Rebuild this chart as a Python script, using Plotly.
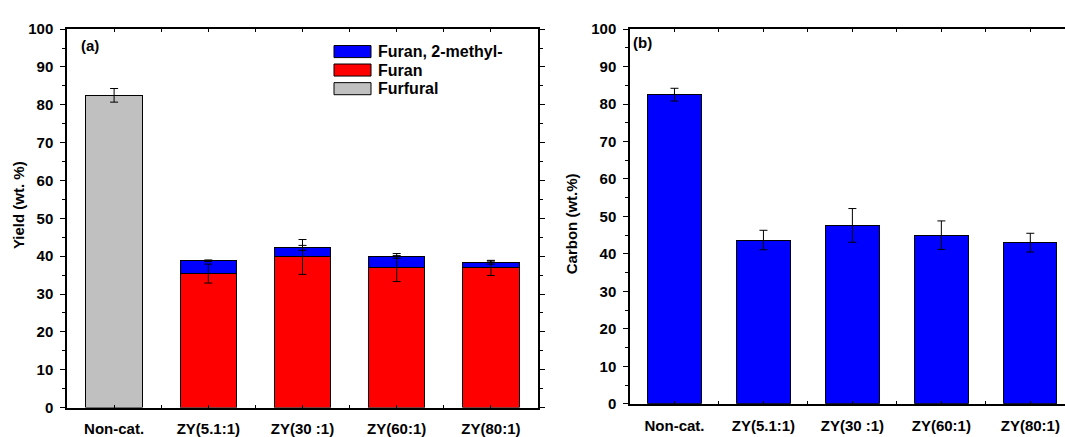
import plotly.graph_objects as go

# ---------------- data ----------------
categories = ["Non-cat.", "ZY(5.1:1)", "ZY(30 :1)", "ZY(60:1)", "ZY(80:1)"]
furfural = [82.5, None, None, None, None]
furfural_err = [1.8, None, None, None, None]
furan = [None, 35.4, 39.8, 37.0, 36.9]
furan_err = [None, 2.5, 4.6, 3.7, 2.0]
methylfuran = [None, 3.4, 2.4, 2.8, 1.4]
methylfuran_err = [None, 0.2, 0.65, 0.35, 0.4]
carbon = [82.5, 43.7, 47.6, 45.0, 43.0]
carbon_err = [1.7, 2.6, 4.5, 3.8, 2.5]
legend_names = ["Furan, 2-methyl-", "Furan", "Furfural"]
legend_colors = ["#0000FF", "#FF0000", "#C0C0C0"]

xpos = list(range(len(categories)))
methyl_top = [(f + m) if (f is not None and m is not None) else None
              for f, m in zip(furan, methylfuran)]

FONT = "Liberation Sans"
W, H = 1065, 437

fig = go.Figure()

line = dict(color="black", width=1)
fig.add_trace(go.Bar(x=xpos, y=furfural, width=0.6, name="Furfural",
                     marker=dict(color="#C0C0C0", line=line),
                     xaxis="x", yaxis="y", showlegend=False))
fig.add_trace(go.Bar(x=xpos, y=furan, width=0.6, name="Furan",
                     marker=dict(color="#FF0000", line=line),
                     xaxis="x", yaxis="y", showlegend=False))
fig.add_trace(go.Bar(x=xpos, y=methylfuran, width=0.6, name="Furan, 2-methyl-",
                     marker=dict(color="#0000FF", line=line),
                     xaxis="x", yaxis="y", showlegend=False))
fig.add_trace(go.Bar(x=xpos, y=carbon, width=0.6, name="Carbon",
                     marker=dict(color="#0000FF", line=line),
                     xaxis="x2", yaxis="y2", showlegend=False))


def err_trace(y, e, xa, ya):
    return go.Scatter(x=xpos, y=y, mode="markers",
                      marker=dict(size=1, color="rgba(0,0,0,0)"),
                      error_y=dict(type="data", array=e, color="black",
                                   thickness=1, width=4, visible=True),
                      xaxis=xa, yaxis=ya, showlegend=False, hoverinfo="skip")


fig.add_trace(err_trace(furfural, furfural_err, "x", "y"))
fig.add_trace(err_trace(furan, furan_err, "x", "y"))
fig.add_trace(err_trace(methyl_top, methylfuran_err, "x", "y"))
fig.add_trace(err_trace(carbon, carbon_err, "x2", "y2"))

tickfont = dict(family=FONT, size=15, color="black", weight="bold")
minor_x = [i + 0.5 for i in xpos[:-1]]

common_x = dict(tickmode="array", tickvals=xpos, ticktext=categories,
                showline=True, linecolor="black", linewidth=1.5,
                ticks="inside", ticklen=3, tickcolor="black",
                minor=dict(tickvals=minor_x, ticks="inside", ticklen=3, tickcolor="black"),
                showgrid=False, zeroline=False, tickfont=tickfont,
                ticklabelstandoff=7)
common_y = dict(range=[0, 100], tickmode="linear", tick0=0, dtick=10,
                showline=True, linecolor="black", linewidth=1.5,
                ticks="outside", ticklen=5, tickcolor="black",
                minor=dict(dtick=5, ticks="outside", ticklen=3, tickcolor="black"),
                showgrid=False, zeroline=False, tickfont=tickfont,
                ticklabelstandoff=4)

fig.update_layout(
    width=W, height=H, margin=dict(l=0, r=0, t=0, b=0),
    paper_bgcolor="white", plot_bgcolor="white",
    barmode="stack", bargap=0.4,
    font=dict(family=FONT, color="black"),
    xaxis=dict(domain=[67 / W, 538 / W], range=[-0.5, 4.5], anchor="y",
               mirror="ticks", **common_x),
    yaxis=dict(domain=[1 - 416.7 / H, 1 - 21 / H], anchor="x",
               mirror="ticks", **common_y),
    xaxis2=dict(domain=[630 / W, 1.0], range=[-0.5, 4.39], anchor="y2",
                mirror="ticks", **common_x),
    yaxis2=dict(domain=[1 - 412.7 / H, 1 - 21 / H], anchor="x2",
                mirror=False, **common_y),
)

ann = []
ann.append(dict(text="<b>Yield (wt. %)</b>", xref="paper", yref="paper",
                x=18 / W, y=1 - 205 / H, textangle=-90, showarrow=False,
                font=dict(family=FONT, size=15, color="black"),
                xanchor="center", yanchor="middle"))
ann.append(dict(text="<b>Carbon (wt.%)</b>", xref="paper", yref="paper",
                x=571 / W, y=1 - 225 / H, textangle=-90, showarrow=False,
                font=dict(family=FONT, size=15, color="black"),
                xanchor="center", yanchor="middle"))
ann.append(dict(text="<b>(a)</b>", xref="paper", yref="paper",
                x=79 / W, y=1 - 38 / H, showarrow=False,
                font=dict(family=FONT, size=15, color="black"),
                xanchor="left", yanchor="middle"))
ann.append(dict(text="<b>(b)</b>", xref="paper", yref="paper",
                x=631 / W, y=1 - 35 / H, showarrow=False,
                font=dict(family=FONT, size=15, color="black"),
                xanchor="left", yanchor="middle"))

shapes = []
row_y = [44.5, 63.8, 83.3]
for name, col, yc in zip(legend_names, legend_colors, row_y):
    shapes.append(dict(type="rect", xref="paper", yref="paper",
                       x0=334 / W, x1=371 / W, y0=1 - (yc - 6.3) / H, y1=1 - (yc + 6.3) / H,
                       fillcolor=col, line=dict(color="black", width=1)))
    ann.append(dict(text="<b>%s</b>" % name, xref="paper", yref="paper",
                    x=376 / W, y=1 - yc / H, showarrow=False,
                    font=dict(family=FONT, size=16, color="black"),
                    xanchor="left", yanchor="middle"))

fig.update_layout(annotations=ann, shapes=shapes)

fig.write_html("out.html")
